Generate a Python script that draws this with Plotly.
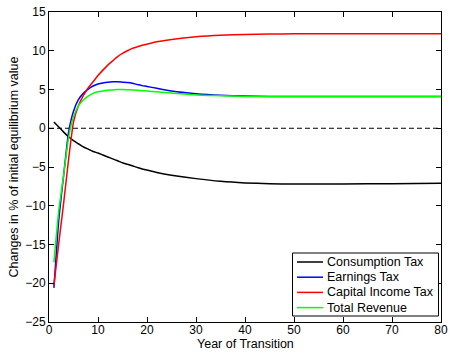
import plotly.graph_objects as go

# Transition paths, % change from initial equilibrium
years = list(range(1, 21)) + [22, 25, 30, 35, 40, 45, 50, 55, 60, 70, 80]

consumption_tax = [0.8, 0.15, -0.5, -1.1, -1.6, -2.0, -2.4, -2.7, -3.0, -3.2,
                   -3.45, -3.7, -3.95, -4.2, -4.45, -4.65, -4.85, -5.05, -5.25, -5.4,
                   -5.7, -6.05, -6.5, -6.85, -7.05, -7.15, -7.2, -7.2, -7.2, -7.15, -7.1]
earnings_tax = [-20.6, -11.8, -6.0, -0.5, 2.2, 3.7, 4.5, 5.05, 5.45, 5.7,
                5.85, 5.95, 6.0, 6.0, 5.95, 5.9, 5.8, 5.65, 5.5, 5.4,
                5.15, 4.8, 4.45, 4.25, 4.15, 4.1, 4.1, 4.1, 4.1, 4.1, 4.1]
capital_income_tax = [-20.3, -14.8, -9.6, -4.0, 0.8, 2.9, 4.2, 5.2, 6.0, 6.8,
                      7.5, 8.15, 8.7, 9.25, 9.65, 10.0, 10.3, 10.5, 10.7, 10.85,
                      11.15, 11.45, 11.8, 12.0, 12.1, 12.15, 12.2, 12.2, 12.2, 12.2, 12.2]
total_revenue = [-17.3, -10.6, -6.0, -1.2, 1.5, 2.9, 3.65, 4.15, 4.5, 4.7,
                 4.82, 4.9, 4.95, 5.0, 5.0, 4.98, 4.95, 4.9, 4.85, 4.8,
                 4.7, 4.55, 4.3, 4.2, 4.1, 4.1, 4.1, 4.1, 4.1, 4.1, 4.1]

series_names = ["Consumption Tax", "Earnings Tax", "Capital Income Tax", "Total Revenue"]
series_values = [consumption_tax, earnings_tax, capital_income_tax, total_revenue]
series_colors = ["#000000", "#0000ff", "#ff0000", "#00ff00"]

baseline_x = [0, 80]
baseline_y = [0, 0]

x_ticks = [0, 10, 20, 30, 40, 50, 60, 70, 80]
y_ticks = [-25, -20, -15, -10, -5, 0, 5, 10, 15]

FONT = "Liberation Sans, Arial, Helvetica, sans-serif"
W, H = 451, 352
L, R, T, B = 49, 10, 12, 30

fig = go.Figure()

fig.add_trace(go.Scatter(x=baseline_x, y=baseline_y, mode="lines",
                         line=dict(color="#000000", width=1, dash="5px,3px"),
                         showlegend=False, hoverinfo="skip"))

for name, vals, col in zip(series_names, series_values, series_colors):
    fig.add_trace(go.Scatter(x=years, y=vals, mode="lines", name=name,
                             line=dict(color=col, width=1.5, shape="spline", smoothing=0.5),
                             showlegend=False))

axis_common = dict(showgrid=False, zeroline=False, showline=True, linecolor="#000000", linewidth=1,
                   mirror="ticks", ticks="inside", ticklen=5, tickcolor="#000000", automargin=False,
                   tickfont=dict(family=FONT, size=12, color="#000000"))

fig.update_xaxes(range=[0, 80], tickvals=x_ticks, ticklabelstandoff=-3, **axis_common)
fig.update_yaxes(range=[-25, 15], tickvals=y_ticks,
                 title=dict(text="Changes in % of initial equilibrium value",
                            font=dict(family=FONT, size=12.5, color="#000000"), standoff=3),
                 **axis_common)

# Legend box and x title placed in paper coordinates (pixel helpers)
pw, ph = W - L - R, H - T - B


def px_x(p):
    return (p - L) / pw


def px_y(p):
    return (H - B - p) / ph


shapes = [dict(type="rect", xref="paper", yref="paper",
               x0=px_x(292.5), x1=px_x(438.5), y0=px_y(316), y1=px_y(253),
               line=dict(color="#000000", width=1), fillcolor="#ffffff", layer="above")]
annotations = [dict(xref="paper", yref="paper", x=0.5, y=px_y(352), xanchor="center", yanchor="bottom",
                    showarrow=False, text="Year of Transition", borderpad=0,
                    font=dict(family=FONT, size=12.5, color="#000000"))]
for i, (name, col) in enumerate(zip(series_names, series_colors)):
    yc = 262 + i * 15.2
    shapes.append(dict(type="line", xref="paper", yref="paper",
                       x0=px_x(297), x1=px_x(323), y0=px_y(yc), y1=px_y(yc),
                       line=dict(color=col, width=1.5), layer="above"))
    annotations.append(dict(xref="paper", yref="paper", x=px_x(325), y=px_y(yc),
                            xanchor="left", yanchor="middle", showarrow=False, text=name,
                            font=dict(family=FONT, size=12.5, color="#000000")))

fig.update_layout(width=W, height=H, margin=dict(l=L, r=R, t=T, b=B),
                  paper_bgcolor="#ffffff", plot_bgcolor="#ffffff",
                  shapes=shapes, annotations=annotations, showlegend=False)

fig.write_html("out.html")
